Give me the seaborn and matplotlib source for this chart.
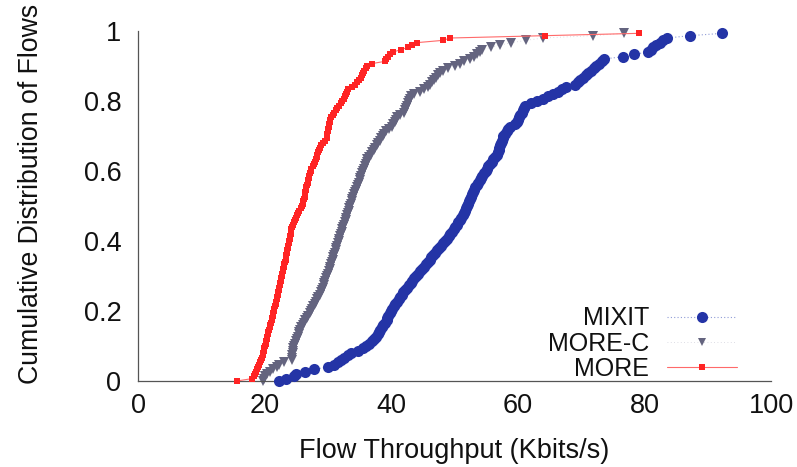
import numpy as np
import pandas as pd
import matplotlib
matplotlib.use("Agg")
import matplotlib.pyplot as plt
from matplotlib.lines import Line2D
import seaborn as sns

# Per-flow throughput (Kbits/s), sorted, for each scheme
mixit_kbps = [
    22.2, 23.4, 24.6, 25.0, 26.3, 27.8, 30.0, 30.9, 31.6, 32.0,
    32.5, 33.1, 33.6, 34.8, 35.5, 36.0, 36.5, 36.9, 37.3, 37.6,
    37.85, 38.0, 38.2, 38.5, 38.75, 39.0, 39.3, 39.4, 39.55, 39.75,
    39.9, 40.15, 40.4, 40.65, 40.9, 41.15, 41.4, 41.65, 41.9, 42.2,
    42.5, 42.8, 43.1, 43.35, 43.65, 43.95, 44.25, 44.55, 44.85, 45.15,
    45.45, 45.75, 46.05, 46.3, 46.6, 46.9, 47.25, 47.6, 47.9, 48.25,
    48.55, 48.85, 49.1, 49.35, 49.6, 49.85, 50.1, 50.35, 50.6, 50.85,
    51.1, 51.35, 51.55, 51.7, 51.85, 52.0, 52.15, 52.3, 52.45, 52.6,
    52.75, 52.95, 53.1, 53.25, 53.5, 53.75, 53.95, 54.2, 54.4, 54.65,
    54.9, 55.1, 55.35, 55.6, 55.9, 56.15, 56.4, 56.65, 56.85, 56.95,
    57.1, 57.2, 57.35, 57.45, 57.6, 57.7, 57.95, 58.25, 58.5, 58.8,
    59.5, 59.9, 60.1, 60.25, 60.4, 60.6, 60.8, 61.0, 61.2, 62.1,
    63.1, 63.9, 64.8, 65.6, 66.3, 66.95, 67.6, 69.0, 69.55, 69.9,
    70.25, 70.7, 71.15, 71.55, 72.0, 72.4, 72.85, 73.3, 73.6, 76.6,
    78.4, 80.6, 81.0, 81.4, 81.9, 82.5, 83.0, 83.6, 87.2, 92.3,
]

more_c_kbps = [
    19.8, 19.95, 20.1, 20.3, 20.8, 21.4, 21.9, 22.2, 23.0, 24.3,
    24.35, 24.4, 24.45, 24.5, 24.55, 24.7, 24.8, 24.95, 25.1, 25.2,
    25.35, 25.5, 25.6, 25.8, 26.0, 26.25, 26.45, 26.65, 26.9, 27.1,
    27.3, 27.5, 27.7, 27.9, 28.1, 28.3, 28.5, 28.7, 28.85, 29.0,
    29.15, 29.3, 29.45, 29.6, 29.75, 29.9, 30.0, 30.15, 30.25, 30.4,
    30.5, 30.6, 30.75, 30.85, 31.0, 31.1, 31.2, 31.35, 31.45, 31.6,
    31.7, 31.8, 31.95, 32.05, 32.2, 32.3, 32.45, 32.55, 32.7, 32.8,
    32.9, 33.05, 33.15, 33.25, 33.4, 33.5, 33.6, 33.75, 33.85, 34.0,
    34.15, 34.3, 34.45, 34.55, 34.7, 34.85, 35.0, 35.1, 35.25, 35.4,
    35.55, 35.7, 35.85, 35.95, 36.1, 36.25, 36.5, 36.75, 37.0, 37.25,
    37.5, 37.7, 37.95, 38.2, 38.45, 38.7, 38.9, 39.15, 39.6, 40.2,
    40.35, 40.55, 40.7, 40.85, 41.4, 41.95, 42.1, 42.3, 42.45, 42.6,
    42.8, 42.95, 43.1, 43.6, 44.5, 45.2, 45.8, 46.1, 46.45, 46.8,
    47.1, 47.4, 47.75, 48.1, 48.9, 50.0, 50.9, 51.5, 52.4, 53.1,
    53.6, 54.0, 54.4, 55.8, 57.2, 59.0, 61.3, 64.0, 71.9, 76.7,
]

more_kbps = [
    15.6, 18.0, 18.25, 18.45, 18.6, 18.8, 18.95, 19.15, 19.3, 19.5,
    19.6, 19.7, 19.8, 19.85, 19.95, 20.05, 20.15, 20.25, 20.35, 20.45,
    20.55, 20.6, 20.7, 20.8, 20.9, 21.0, 21.1, 21.2, 21.3, 21.35,
    21.45, 21.55, 21.65, 21.75, 21.85, 21.95, 22.0, 22.1, 22.15, 22.25,
    22.3, 22.4, 22.5, 22.55, 22.65, 22.7, 22.8, 22.9, 22.95, 23.05,
    23.1, 23.2, 23.3, 23.35, 23.45, 23.5, 23.6, 23.65, 23.75, 23.8,
    23.85, 23.95, 24.0, 24.1, 24.15, 24.2, 24.3, 24.45, 24.6, 24.75,
    24.9, 25.1, 25.3, 25.5, 25.75, 25.95, 26.05, 26.1, 26.2, 26.3,
    26.35, 26.45, 26.55, 26.6, 26.7, 26.8, 26.9, 26.95, 27.0, 27.1,
    27.25, 27.4, 27.6, 27.75, 27.9, 28.05, 28.2, 28.35, 28.5, 28.6,
    28.75, 28.95, 29.25, 29.5, 29.8, 29.85, 29.9, 29.95, 30.05, 30.1,
    30.2, 30.25, 30.3, 30.55, 30.75, 31.0, 31.2, 31.45, 31.7, 32.0,
    32.3, 32.5, 32.65, 32.8, 33.0, 33.2, 33.8, 34.3, 34.6, 34.9,
    35.2, 35.4, 35.6, 35.75, 35.95, 36.2, 36.9, 39.0, 39.2, 39.5,
    39.8, 40.3, 41.5, 42.7, 43.3, 44.0, 48.2, 49.3, 64.3, 79.1,
]

schemes = ["MIXIT", "MORE-C", "MORE"]
x_ticks = [0, 20, 40, 60, 80, 100]
y_ticks = [0, 0.2, 0.4, 0.6, 0.8, 1]
y_tick_labels = ["0", "0.2", "0.4", "0.6", "0.8", "1"]


def ecdf_frame(values, name):
    v = np.sort(np.asarray(values, dtype=float))
    return pd.DataFrame({
        "throughput": v,
        "cdf": np.arange(len(v)) / len(v),
        "scheme": name,
    })


df = pd.concat([
    ecdf_frame(mixit_kbps, "MIXIT"),
    ecdf_frame(more_c_kbps, "MORE-C"),
    ecdf_frame(more_kbps, "MORE"),
], ignore_index=True)

sns.set_style("white")
plt.rcParams["font.family"] = ["Liberation Sans", "DejaVu Sans"]

fig = plt.figure(figsize=(7.97, 4.67), dpi=100)
ax = fig.add_axes([0.1732, 0.1842, 0.7942, 0.7494])

styles = {
    "MIXIT": dict(color="#2434a6", marker="o", markersize=8.0, leg_size=8.0,
                  linestyle=(0, (1, 2)), linewidth=0.8, zorder=3,
                  line_color="#8f9bd6"),
    "MORE-C": dict(color="#64647f", marker="v", markersize=7.0, leg_size=5.5,
                   linestyle=(0, (1, 3)), linewidth=0.6, zorder=2,
                   line_color="#d2d2dc"),
    "MORE": dict(color="#ff2424", marker="s", markersize=5.0, leg_size=5.0,
                 linestyle="-", linewidth=0.8, zorder=4,
                 line_color="#ff6a6a"),
}

for name in schemes:
    st = styles[name]
    sub = df[df["scheme"] == name]
    # thin connecting line
    sns.lineplot(data=sub, x="throughput", y="cdf", ax=ax, sort=False,
                 estimator=None, color=st["line_color"],
                 linestyle=st["linestyle"], linewidth=st["linewidth"],
                 zorder=st["zorder"] - 0.5, clip_on=False, legend=False)
    # point markers
    sns.lineplot(data=sub, x="throughput", y="cdf", ax=ax, sort=False,
                 estimator=None, color=st["color"], linestyle="none",
                 marker=st["marker"], markersize=st["markersize"],
                 markeredgewidth=0, zorder=st["zorder"], clip_on=False,
                 legend=False)

ax.set_xlim(0, 100)
ax.set_ylim(0, 1)
ax.set_xticks(x_ticks)
ax.set_xticklabels([str(t) for t in x_ticks])
ax.set_yticks(y_ticks)
ax.set_yticklabels(y_tick_labels)

for side in ["top", "right"]:
    ax.spines[side].set_visible(False)
for side in ["left", "bottom"]:
    ax.spines[side].set_color("#555555")
    ax.spines[side].set_linewidth(0.9)

ax.tick_params(axis="both", direction="in", length=4, width=0.8,
               color="#555555", labelsize=19.5, labelcolor="#111111")
ax.tick_params(axis="y", pad=12)
ax.tick_params(axis="x", pad=9)

ax.set_xlabel("Flow Throughput (Kbits/s)", fontsize=19.5, color="#111111",
              labelpad=13)
ax.set_ylabel("Cumulative Distribution of Flows", fontsize=19.2,
              color="#111111")
ax.yaxis.set_label_coords(-0.148, 0.534)

# legend with label on the left and sample on the right
handles = []
for name in schemes:
    st = styles[name]
    handles.append(Line2D([0], [0], color=st["line_color"],
                          linestyle=st["linestyle"], linewidth=st["linewidth"],
                          marker=st["marker"], markersize=st["leg_size"],
                          markerfacecolor=st["color"], markeredgewidth=0))
leg = ax.legend(handles, schemes, loc="lower right",
                bbox_to_anchor=(0.946, 0.0), markerfirst=False,
                frameon=False, fontsize=18, handlelength=2.8,
                handletextpad=0.7, labelspacing=0.05, borderpad=0.0,
                borderaxespad=0.0)
for t in leg.get_texts():
    t.set_color("#111111")

fig.savefig("out.png", dpi=100, facecolor="white")
